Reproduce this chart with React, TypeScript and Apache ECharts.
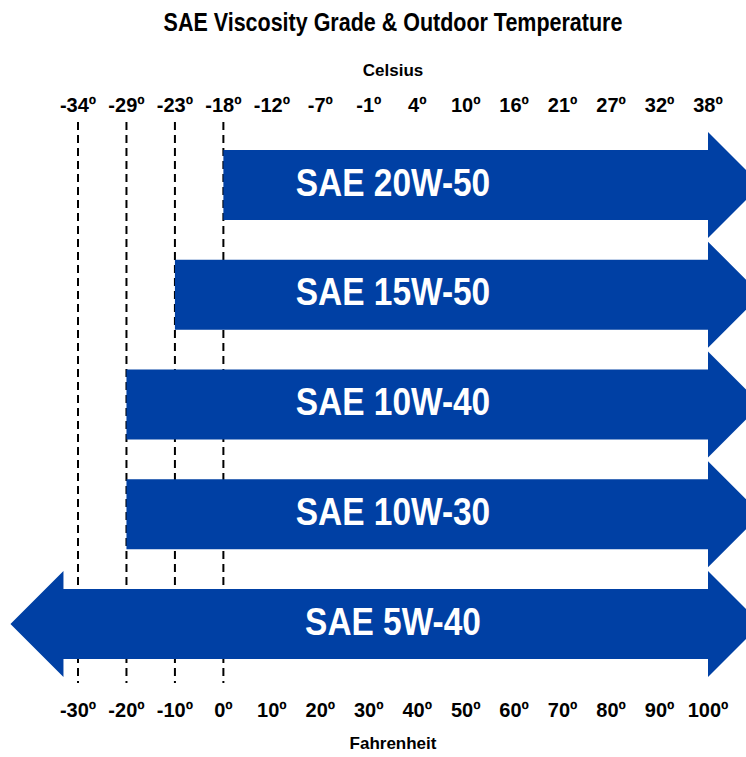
import React, { useEffect, useRef } from "react";
import * as echarts from "echarts";

const grades = ["SAE 20W-50", "SAE 15W-50", "SAE 10W-40", "SAE 10W-30", "SAE 5W-40"];
const rangeStartF = [0, -10, -20, -20, -33];
const rangeEndF = [100, 100, 100, 100, 100];
const extendsLeft = [false, false, false, false, true];
const extendsRight = [true, true, true, true, true];
const fahrenheitTicks = [-30, -20, -10, 0, 10, 20, 30, 40, 50, 60, 70, 80, 90, 100];
const celsiusTicks = [-34, -29, -23, -18, -12, -7, -1, 4, 10, 16, 21, 27, 32, 38];
const guideLinesF = [-30, -20, -10, 0];

const FONT = '"Liberation Sans", Arial, Helvetica, sans-serif';
const BLUE = "#0040a4";

export default function App() {
  const ref = useRef<HTMLDivElement>(null);
  useEffect(() => {
    if (!ref.current) return;
    const chart = echarts.init(ref.current, undefined, { renderer: "svg" });
    const fMin = fahrenheitTicks[0];
    const fMax = fahrenheitTicks[fahrenheitTicks.length - 1];
    const fMid = (fMin + fMax) / 2;
    const labelStyle = { fontFamily: FONT, fontWeight: "bold", fontSize: 20, color: "#000" };

    chart.setOption({
      animation: false,
      backgroundColor: "#fff",
      graphic: [
        {
          type: "text",
          x: 393,
          y: 22,
          scaleX: 0.86,
          style: {
            text: "SAE Viscosity Grade & Outdoor Temperature",
            fontFamily: FONT,
            fontWeight: "bold",
            fontSize: 25,
            fill: "#000",
            textAlign: "center",
            textVerticalAlign: "middle",
          },
        },
      ],
      grid: [
        { left: 78, right: 38, top: 122, bottom: 74 },
        { left: 78, right: 38, top: 130, bottom: 78 },
      ],
      xAxis: [
        {
          type: "value",
          gridIndex: 0,
          position: "bottom",
          min: fMin,
          max: fMax,
          interval: 10,
          axisLine: { show: false },
          axisTick: { show: false },
          splitLine: { show: false },
          axisLabel: { ...labelStyle, margin: 17, formatter: (v: number) => `${v}º` },
          name: "Fahrenheit",
          nameLocation: "middle",
          nameGap: 60,
          nameTextStyle: { fontFamily: FONT, fontWeight: "bold", fontSize: 17, color: "#000", verticalAlign: "middle" },
        },
        {
          type: "value",
          gridIndex: 0,
          position: "top",
          min: fMin,
          max: fMax,
          interval: 10,
          axisLine: { show: false },
          axisTick: { show: false },
          splitLine: { show: false },
          axisLabel: {
            ...labelStyle,
            margin: 7,
            formatter: (v: number) => {
              const i = fahrenheitTicks.indexOf(v);
              return i >= 0 ? `${celsiusTicks[i]}º` : "";
            },
          },
          name: "Celsius",
          nameLocation: "middle",
          nameGap: 52,
          nameTextStyle: { fontFamily: FONT, fontWeight: "bold", fontSize: 17, color: "#000", verticalAlign: "middle" },
        },
        {
          type: "value",
          gridIndex: 1,
          min: fMin,
          max: fMax,
          show: false,
        },
      ],
      yAxis: [
        { type: "value", gridIndex: 0, min: 0, max: 1, show: false },
        { type: "category", gridIndex: 1, data: grades, inverse: true, show: false },
      ],
      series: [
        {
          type: "custom",
          xAxisIndex: 0,
          yAxisIndex: 0,
          clip: false,
          data: guideLinesF.map((f) => [f]),
          renderItem: (params: any, api: any) => {
            const top = api.coord([api.value(0), 1]);
            const bot = api.coord([api.value(0), 0]);
            return {
              type: "line",
              shape: { x1: top[0], y1: top[1], x2: bot[0], y2: bot[1] },
              style: { stroke: "#000", lineWidth: 2, lineDash: [8, 5] },
            };
          },
        },
        {
          type: "custom",
          xAxisIndex: 2,
          yAxisIndex: 1,
          clip: false,
          data: grades.map((g, i) => [rangeStartF[i], rangeEndF[i], i, extendsLeft[i] ? 1 : 0, extendsRight[i] ? 1 : 0]),
          renderItem: (params: any, api: any) => {
            const idx = api.value(2);
            const s = api.coord([api.value(0), idx]);
            const e = api.coord([api.value(1), idx]);
            const yc = s[1];
            const bodyH = 35;
            const headH = 53;
            const headL = 53;
            const x0 = s[0];
            const x1 = e[0];
            const pts: number[][] = [];
            pts.push([x0, yc - bodyH]);
            pts.push([x1, yc - bodyH]);
            if (api.value(4)) {
              pts.push([x1, yc - headH]);
              pts.push([x1 + headL, yc]);
              pts.push([x1, yc + headH]);
            }
            pts.push([x1, yc + bodyH]);
            pts.push([x0, yc + bodyH]);
            if (api.value(3)) {
              pts.push([x0, yc + headH]);
              pts.push([x0 - headL, yc]);
              pts.push([x0, yc - headH]);
            }
            const mid = api.coord([fMid, idx]);
            return {
              type: "group",
              children: [
                { type: "polygon", shape: { points: pts }, style: { fill: BLUE } },
                {
                  type: "text",
                  x: mid[0],
                  y: yc - 2,
                  scaleX: 0.88,
                  style: {
                    text: grades[idx],
                    fill: "#fff",
                    fontFamily: FONT,
                    fontWeight: "bold",
                    fontSize: 38,
                    textAlign: "center",
                    textVerticalAlign: "middle",
                  },
                },
              ],
            };
          },
        },
      ],
    });
    return () => chart.dispose();
  }, []);
  return <div ref={ref} style={{ position: "absolute", left: 0, top: 0, width: 746, height: 757 }} />;
}
